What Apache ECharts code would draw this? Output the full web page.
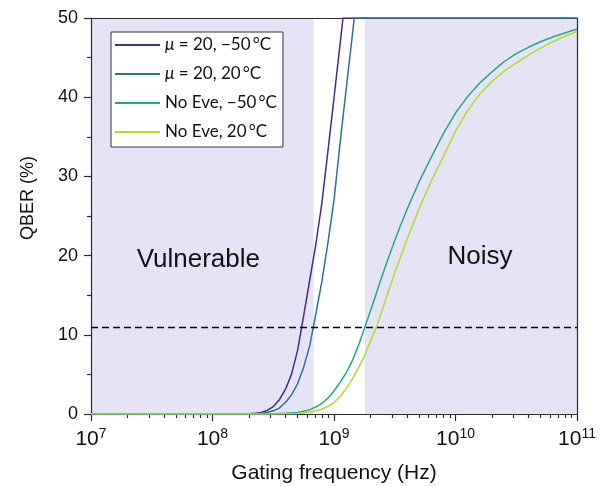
<!DOCTYPE html>
<html><head><meta charset="utf-8">
<script src="https://cdn.jsdelivr.net/npm/echarts@6/dist/echarts.min.js"></script>
<style>html,body{margin:0;padding:0;background:#fff}#c{width:611px;height:487px}</style>
</head><body><div id="c"></div>
<script>
// ---- data ----
// x values are given as log10(frequency / Hz); y values are QBER in %.
const seriesNames = ['μ = 20, −50\u2009°C', 'μ = 20, 20\u2009°C', 'No Eve, −50\u2009°C', 'No Eve, 20\u2009°C'];
const seriesColors = ['#472c7a', '#2c718e', '#22a884', '#addc30'];

const lgFreqMuCold = [7, 8, 8.2, 8.25, 8.3, 8.35, 8.4, 8.45, 8.5, 8.55, 8.6, 8.65, 8.7, 8.75, 8.8, 8.85, 8.9, 8.95, 9.0, 9.05, 9.074, 11];
const qberMuCold   = [0, 0, 0, 0.01, 0.03, 0.08, 0.2, 0.45, 0.92, 1.8, 3.1, 5.0, 8.0, 12.4, 16.9, 21.4, 26.6, 33.2, 39.9, 46.7, 50, 50];

const lgFreqMuWarm = [7, 8, 8.3, 8.35, 8.4, 8.45, 8.5, 8.55, 8.6, 8.65, 8.7, 8.75, 8.8, 8.85, 8.9, 8.95, 9.0, 9.05, 9.1, 9.15, 9.167, 11];
const qberMuWarm   = [0, 0, 0, 0.02, 0.06, 0.2, 0.4, 0.75, 1.45, 2.4, 3.8, 5.9, 8.6, 12.6, 16.7, 21.6, 27.0, 34.2, 41.0, 47.7, 50, 50];

const lgFreqNoEveCold = [7, 8, 8.4, 8.5, 8.6, 8.7, 8.75, 8.8, 8.85, 8.9, 8.95, 9.0, 9.05, 9.1, 9.15, 9.2, 9.25, 9.3, 9.35, 9.4, 9.45, 9.5, 9.55, 9.6, 9.7, 9.8, 9.9, 10.0, 10.1, 10.2, 10.3, 10.4, 10.5, 10.6, 10.7, 10.8, 10.9, 11.0];
const qberNoEveCold   = [0, 0, 0, 0.03, 0.08, 0.2, 0.35, 0.55, 0.88, 1.35, 2.0, 2.9, 4.0, 5.2, 6.7, 8.6, 10.8, 13.0, 15.3, 17.6, 19.8, 21.9, 23.9, 25.8, 29.3, 32.4, 35.4, 38.0, 40.1, 41.8, 43.2, 44.5, 45.5, 46.3, 47.0, 47.6, 48.1, 48.6];

const lgFreqNoEveWarm = [7, 8, 8.5, 8.6, 8.7, 8.8, 8.85, 8.9, 8.95, 9.0, 9.05, 9.1, 9.15, 9.2, 9.25, 9.3, 9.35, 9.4, 9.45, 9.5, 9.55, 9.6, 9.7, 9.8, 9.9, 10.0, 10.1, 10.2, 10.3, 10.4, 10.5, 10.6, 10.7, 10.8, 10.9, 11.0];
const qberNoEveWarm   = [0, 0, 0, 0.02, 0.06, 0.25, 0.4, 0.6, 0.95, 1.45, 2.2, 3.2, 4.4, 5.8, 7.3, 9.2, 11.0, 13.3, 15.6, 17.8, 19.9, 22.0, 25.9, 29.4, 32.5, 35.7, 38.3, 40.4, 42.0, 43.3, 44.3, 45.3, 46.2, 47.0, 47.7, 48.3];

const xMajorTicks = [1e7, 1e8, 1e9, 1e10, 1e11];
const xMinorTicks = [2e7,3e7,4e7,5e7,6e7,7e7,8e7,9e7, 2e8,3e8,4e8,5e8,6e8,7e8,8e8,9e8, 2e9,3e9,4e9,5e9,6e9,7e9,8e9,9e9, 2e10,3e10,4e10,5e10,6e10,7e10,8e10,9e10];
const yRange = [0, 50];
const yInterval = 10;
const threshold = 11;
const vulnerableRange = [1e7, 6.8e8];
const noisyRange = [1.8e9, 1e11];
const regionLabels = ['Vulnerable', 'Noisy'];

// ---- chart ----
const FONT = 'Liberation Sans, Arial, sans-serif';
const LEGEND_FONT = 'Lato, Carlito, sans-serif';
const AXIS_COLOR = '#2b2b2b';
const chart = echarts.init(document.getElementById('c'), null, {renderer: 'canvas'});

const xList = [lgFreqMuCold, lgFreqMuWarm, lgFreqNoEveCold, lgFreqNoEveWarm];
const yList = [qberMuCold, qberMuWarm, qberNoEveCold, qberNoEveWarm];

const curveSeries = seriesNames.map((name, i) => ({
  name: name,
  type: 'line',
  xAxisIndex: 0, yAxisIndex: 0,
  z: 3,
  showSymbol: false, symbol: 'none',
  smooth: false,
  color: seriesColors[i],
  lineStyle: {color: seriesColors[i], width: 1.5, join: 'round'},
  data: xList[i].map((lg, k) => [Math.pow(10, lg), yList[i][k]])
}));

const shadeSeries = {
  name: 'regions',
  type: 'line',
  xAxisIndex: 0, yAxisIndex: 0,
  z: 1,
  showSymbol: false, symbol: 'none',
  lineStyle: {opacity: 0},
  data: [[1e7, 0]],
  silent: true,
  markArea: {
    silent: true,
    itemStyle: {color: '#e7e3f7'},
    label: {
      show: true, position: 'inside',
      fontFamily: FONT, fontSize: 26, color: '#111'
    },
    data: [
      [{name: regionLabels[0], xAxis: vulnerableRange[0], yAxis: yRange[0], label: {offset: [-4, 44]}},
       {xAxis: vulnerableRange[1], yAxis: yRange[1]}],
      [{name: regionLabels[1], xAxis: noisyRange[0], yAxis: yRange[0], label: {offset: [9, 41]}},
       {xAxis: noisyRange[1], yAxis: yRange[1]}]
    ]
  },
  markLine: {
    silent: true, symbol: ['none', 'none'],
    label: {show: false},
    lineStyle: {color: '#000', type: [7, 4], width: 1.3},
    data: [{yAxis: threshold}]
  }
};

const option = {
  animation: false,
  backgroundColor: '#fff',
  grid: {left: 91, right: 34, top: 18, bottom: 73, containLabel: false, outerBoundsMode: 'none'},
  legend: {
    data: seriesNames,
    orient: 'vertical',
    left: 111, top: 32,
    backgroundColor: '#fff',
    borderColor: '#333', borderWidth: 1, borderRadius: 0,
    padding: [3, 6, 5, 4],
    itemGap: 9,
    itemWidth: 45, itemHeight: 2,
    icon: 'rect',
    textStyle: {
      fontFamily: LEGEND_FONT, fontSize: 17, color: '#111', lineHeight: 20,
      rich: {i: {fontFamily: LEGEND_FONT, fontSize: 17, fontStyle: 'italic', color: '#111'}}
    },
    formatter: n => n.replace('μ', '{i|μ}')
  },
  xAxis: [
    {
      type: 'log', logBase: 10, min: xMajorTicks[0], max: xMajorTicks[xMajorTicks.length - 1],
      position: 'bottom', z: 2,
      name: 'Gating frequency (Hz)', nameLocation: 'middle', nameGap: 49,
      nameTextStyle: {fontFamily: FONT, fontSize: 21, color: '#111'},
      axisLine: {show: true, lineStyle: {color: AXIS_COLOR, width: 1.2}},
      axisTick: {show: true, inside: false, length: 7, lineStyle: {color: AXIS_COLOR, width: 1.2}, customValues: xMajorTicks},
      axisLabel: {
        margin: 13, customValues: xMajorTicks,
        formatter: v => '{b|10}{s|' + Math.round(Math.log10(v)) + '}',
        rich: {
          b: {fontFamily: FONT, fontSize: 21, color: '#111'},
          s: {fontFamily: FONT, fontSize: 14, color: '#111', padding: [0, 0, 10, 0]}
        }
      },
      splitLine: {show: false}, minorTick: {show: false}
    },
    {
      type: 'log', logBase: 10, min: xMajorTicks[0], max: xMajorTicks[xMajorTicks.length - 1],
      position: 'bottom', z: 2,
      axisLine: {show: false},
      axisTick: {show: true, inside: false, length: 4, lineStyle: {color: AXIS_COLOR, width: 1.2}, customValues: xMinorTicks},
      axisLabel: {show: false},
      splitLine: {show: false}
    },
    {
      type: 'value', min: 0, max: 1, position: 'top', z: 2,
      axisLine: {show: true, onZero: false, lineStyle: {color: AXIS_COLOR, width: 1.2}},
      axisTick: {show: false}, axisLabel: {show: false}, splitLine: {show: false}
    }
  ],
  yAxis: [
    {
      type: 'value', min: yRange[0], max: yRange[1], interval: yInterval, z: 2,
      name: 'QBER (%)', nameLocation: 'middle', nameGap: 54,
      nameTextStyle: {fontFamily: FONT, fontSize: 18, color: '#111', padding: [0, 0, 0, 36]},
      axisLine: {show: true, onZero: false, lineStyle: {color: AXIS_COLOR, width: 1.2}},
      axisTick: {show: true, inside: false, length: 7, lineStyle: {color: AXIS_COLOR, width: 1.2}},
      minorTick: {show: true, splitNumber: 2, length: 4, lineStyle: {color: AXIS_COLOR, width: 1.2}},
      axisLabel: {margin: 13, fontFamily: FONT, fontSize: 18, color: '#111'},
      splitLine: {show: false}, minorSplitLine: {show: false}
    },
    {
      type: 'value', min: 0, max: 1, position: 'right', z: 2,
      axisLine: {show: true, onZero: false, lineStyle: {color: AXIS_COLOR, width: 1.2}},
      axisTick: {show: false}, axisLabel: {show: false}, splitLine: {show: false}
    }
  ],
  series: [shadeSeries].concat(curveSeries)
};
chart.setOption(option);
</script>
</body></html>
